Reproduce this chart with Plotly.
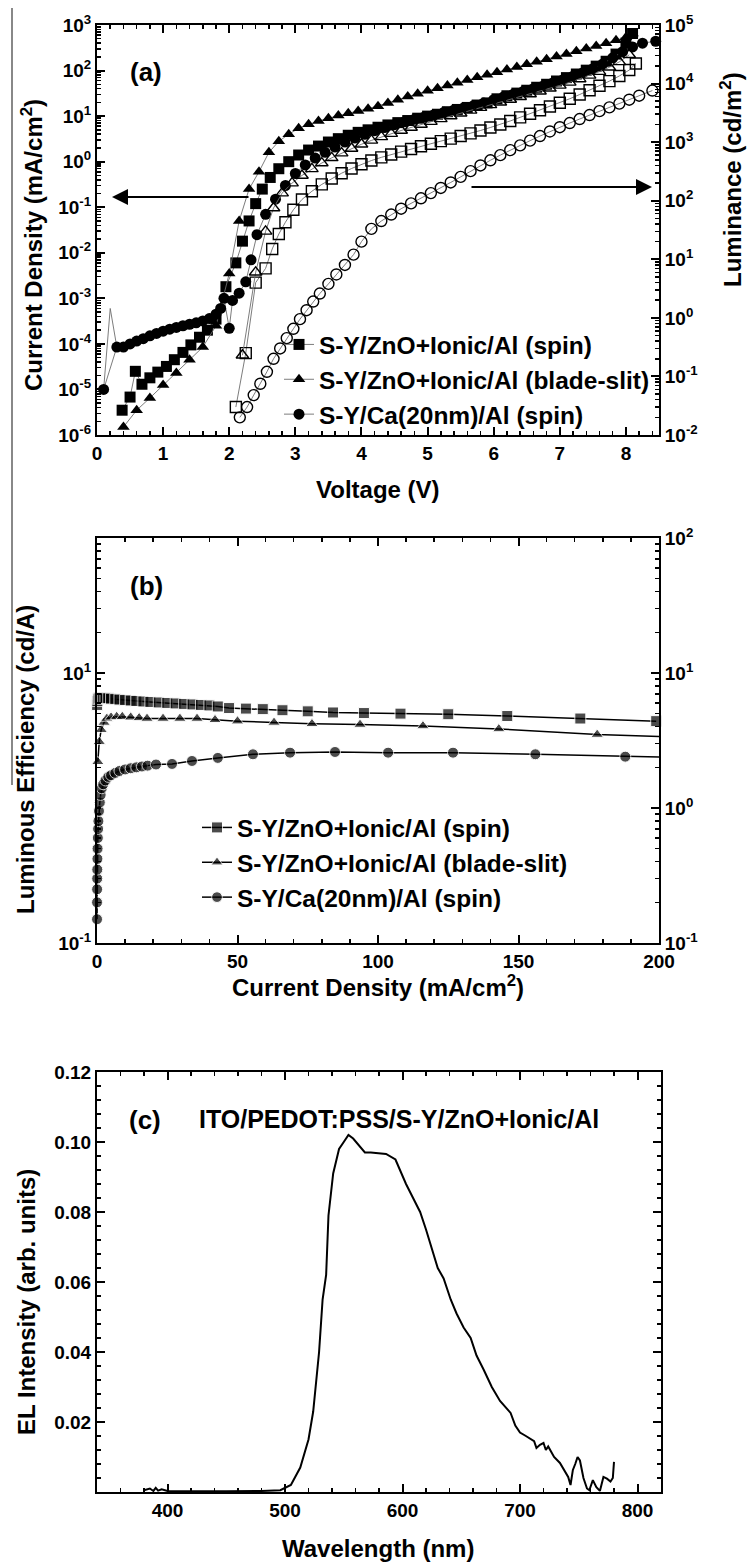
import plotly.graph_objects as go

W, H = 747, 1562
FONT = 'Liberation Sans'

# ---------------- Panel (a): current density (left) / luminance (right) vs voltage ----------------
V_spin_J = [0.38, 0.50, 0.58, 0.68, 0.80, 0.92, 1.05, 1.17, 1.30, 1.42, 1.55, 1.67, 1.80, 1.95, 2.10,
            2.20, 2.30, 2.40, 2.50, 2.62, 2.75, 2.9, 3.05, 3.2, 3.35, 3.5, 3.65, 3.8, 3.95, 4.1,
            4.25, 4.4, 4.55, 4.7, 4.85, 5.0, 5.15, 5.3, 5.45, 5.6, 5.75, 5.9, 6.05, 6.2, 6.35,
            6.5, 6.65, 6.8, 6.95, 7.1, 7.25, 7.4, 7.55, 7.7, 7.85, 8.0, 8.1]
J_spin = [3.5e-6, 6.8e-6, 2.5e-5, 1.3e-5, 1.8e-5, 2.4e-5, 3.2e-5, 4.5e-5, 6.5e-5, 9.5e-5, 1.4e-4, 2.0e-4,
          3.5e-4, 1.8e-3, 6e-3, 0.018, 0.05, 0.12, 0.25, 0.45, 0.7, 1.0, 1.4, 1.8, 2.2, 2.7, 3.2, 3.8,
          4.4, 5.0, 5.7, 6.4, 7.2, 8.0, 9.0, 10, 11, 12.5, 14, 15.5, 17.5, 19.5, 24, 28, 32, 37, 43,
          50, 59, 70, 84, 102, 125, 160, 230, 400, 650]

V_blade_J = [0.4, 0.6, 0.8, 1.0, 1.2, 1.4, 1.6, 1.8, 2.0, 2.15, 2.3, 2.45, 2.6, 2.75, 2.9, 3.05, 3.2,
             3.35, 3.5, 3.65, 3.8, 3.95, 4.1, 4.25, 4.4, 4.55, 4.7, 4.85, 5.0, 5.15, 5.3, 5.45, 5.6,
             5.75, 5.9, 6.05, 6.2, 6.35, 6.5, 6.65, 6.8, 6.95, 7.1, 7.25, 7.4, 7.55, 7.7, 7.85, 8.0, 8.1]
J_blade = [1.5e-6, 3.5e-6, 6.5e-6, 1.25e-5, 2.3e-5, 4.5e-5, 8.5e-5, 2.5e-4, 3.5e-3, 0.05, 0.25, 0.6,
           1.6, 2.8, 4.0, 5.4, 6.6, 7.8, 9.0, 10.3, 11.6, 13, 14.5, 16.5, 19.5, 23, 27, 31, 36, 41, 47,
           54, 62, 71, 81, 92, 105, 120, 137, 156, 178, 203, 232, 265, 303, 347, 400, 460, 540, 650]

V_ca_J = [0.1, 0.3, 0.4, 0.5, 0.6, 0.7, 0.8, 0.9, 1.0, 1.1, 1.2, 1.3, 1.4, 1.5, 1.6, 1.7, 1.8, 1.87, 1.92,
          2.0, 2.05, 2.15, 2.25, 2.33, 2.42, 2.55, 2.7, 2.85, 3.0, 3.15, 3.3, 3.45, 3.6, 3.75, 3.9, 4.05,
          4.2, 4.35, 4.5, 4.65, 4.8, 4.95, 5.1, 5.25, 5.4, 5.55, 5.7, 5.85, 6.0, 6.15, 6.3, 6.45, 6.6,
          6.75, 6.9, 7.05, 7.2, 7.35, 7.5, 7.65, 7.8, 7.95, 8.1, 8.25, 8.45]
J_ca = [1e-5, 8.5e-5, 8.5e-5, 1.0e-4, 1.15e-4, 1.3e-4, 1.5e-4, 1.7e-4, 1.9e-4, 2.1e-4, 2.3e-4, 2.5e-4,
        2.7e-4, 2.9e-4, 3.2e-4, 3.6e-4, 4.5e-4, 6e-4, 1e-3, 2.2e-4, 9e-4, 1.3e-3, 2.3e-3, 7e-3, 0.025,
        0.07, 0.15, 0.3, 0.55, 0.85, 1.2, 1.6, 2.1, 2.7, 3.3, 4.0, 4.8, 5.6, 6.5, 7.5, 8.5, 9.6, 10.8,
        12.2, 13.7, 15.3, 17.2, 19.3, 23, 26.5, 30.5, 35, 40, 46, 54, 63, 75, 90, 110, 140, 190, 260,
        330, 400, 440]

# thin grey spike at very low voltage
V_spike = [0.1, 0.2, 0.3]
J_spike = [1e-5, 6e-4, 8.5e-5]

V_spin_L = [2.1, 2.25, 2.4, 2.55, 2.65, 2.75, 2.85, 2.97, 3.1, 3.25, 3.4, 3.55, 3.7, 3.85, 4.0, 4.15,
            4.3, 4.45, 4.6, 4.75, 4.9, 5.05, 5.2, 5.35, 5.5, 5.65, 5.8, 5.95, 6.1, 6.25, 6.4, 6.55,
            6.7, 6.85, 7.0, 7.15, 7.3, 7.45, 7.6, 7.75, 7.9, 8.05, 8.15]
L_spin = [0.03, 0.25, 4, 7, 15, 27, 43, 70, 105, 145, 190, 240, 295, 355, 420, 485, 550, 615, 690, 765,
          850, 940, 1040, 1150, 1270, 1410, 1580, 1780, 2000, 2300, 2650, 3050, 3500, 4050, 4700, 5500,
          6500, 7700, 9200, 11000, 13500, 17000, 22000]

V_blade_L = [2.2, 2.4, 2.55, 2.67, 2.8, 2.95, 3.1, 3.25, 3.4, 3.55, 3.7, 3.85, 4.0, 4.15, 4.3, 4.45,
             4.6, 4.75, 4.9, 5.05, 5.2, 5.35, 5.5, 5.65, 5.8, 5.95, 6.1, 6.25, 6.4, 6.55, 6.7, 6.85,
             7.0, 7.15, 7.3, 7.45, 7.6, 7.75, 7.9, 8.05]
L_blade = [0.23, 6, 30, 75, 135, 200, 270, 350, 440, 540, 650, 780, 920, 1070, 1230, 1400, 1580, 1780,
           2000, 2240, 2500, 2800, 3120, 3480, 3880, 4320, 4800, 5350, 5950, 6650, 7400, 8300, 9300,
           10500, 12000, 13800, 16000, 19000, 23500, 31000]

V_ca_L = [2.16, 2.27, 2.37, 2.47, 2.57, 2.67, 2.77, 2.87, 2.97, 3.07, 3.17, 3.27, 3.37, 3.5, 3.62, 3.75,
          3.88, 4.0, 4.15, 4.3, 4.45, 4.6, 4.75, 4.9, 5.05, 5.2, 5.35, 5.5, 5.65, 5.8, 5.95, 6.1, 6.25,
          6.4, 6.55, 6.7, 6.85, 7.0, 7.15, 7.3, 7.45, 7.6, 7.75, 7.9, 8.05, 8.2, 8.4]
L_ca = [0.02, 0.03, 0.048, 0.075, 0.12, 0.2, 0.3, 0.45, 0.65, 0.95, 1.35, 1.9, 2.6, 3.8, 5.5, 8, 12, 20,
        33, 45, 58, 73, 90, 110, 135, 165, 205, 255, 320, 400, 490, 600, 730, 880, 1060, 1270, 1520,
        1800, 2120, 2480, 2900, 3380, 3920, 4550, 5300, 6200, 7600]

# ---------------- Panel (b): luminous efficiency vs current density ----------------
Jb_spin = [0.05, 0.15, 0.3, 0.6, 1.0, 1.5, 2.2, 3, 4, 5, 6.5, 8, 10, 12, 14, 16.5, 19, 22, 25, 28, 31,
           34, 37, 40, 43, 47, 53, 59, 66, 75, 84, 95, 108, 125, 146, 172, 199]
LE_spin = [5.8, 6.2, 6.4, 6.5, 6.55, 6.55, 6.55, 6.5, 6.5, 6.45, 6.4, 6.35, 6.3, 6.25, 6.2, 6.15, 6.1,
           6.05, 6.0, 5.95, 5.9, 5.85, 5.8, 5.75, 5.65, 5.5, 5.45, 5.4, 5.3, 5.2, 5.1, 5.05, 5.0, 4.95,
           4.8, 4.6, 4.4]

Jb_blade = [0.3, 0.8, 1.5, 2.5, 3.5, 5, 7, 9, 12, 15, 17.8, 23.5, 29.5, 35.6, 42, 50, 63, 76.5, 93.6,
            116, 143, 178, 215]
LE_blade = [2.2, 3.1, 3.8, 4.3, 4.6, 4.7, 4.75, 4.75, 4.7, 4.65, 4.6, 4.6, 4.6, 4.6, 4.5, 4.4, 4.3,
            4.2, 4.15, 4.05, 3.85, 3.5, 3.3]

Jb_ca = [0.01, 0.02, 0.04, 0.07, 0.1, 0.15, 0.2, 0.3, 0.4, 0.5, 0.7, 1.0, 1.3, 1.7, 2.2, 3, 4, 5, 6.5,
         8, 10, 12, 14, 16, 18, 21, 26.7, 33.8, 43, 55.5, 68.7, 84.7, 103.6, 126.7, 156, 188, 215]
LE_ca = [0.15, 0.2, 0.25, 0.3, 0.35, 0.42, 0.5, 0.6, 0.7, 0.8, 0.95, 1.1, 1.25, 1.4, 1.5, 1.6, 1.7,
         1.75, 1.82, 1.88, 1.93, 1.97, 2.0, 2.03, 2.06, 2.1, 2.12, 2.23, 2.35, 2.5, 2.57, 2.6, 2.57,
         2.57, 2.5, 2.4, 2.35]

# ---------------- Panel (c): EL spectrum ----------------
wl = [380, 385, 388, 390, 392, 395, 400, 420, 450, 480, 496, 505, 513, 520, 524, 529, 532, 535, 537,
      541, 546, 550, 554, 558, 563, 568, 573, 580, 586, 594, 603, 609, 615, 620, 626, 630, 635, 641,
      646, 652, 658, 663, 669, 676, 683, 688, 692, 696, 700, 705, 709, 712, 714, 717, 720, 722, 724,
      729, 734, 738, 741, 743, 745, 747, 749, 751, 752, 754, 757, 759, 762, 765, 768, 771, 774, 777,
      779, 780]
el = [0.0005, 0.001, 0.0003, 0.0012, 0.0004, 0.0008, 0.0003, 0.0002, 0.0002, 0.0003, 0.0005, 0.002,
      0.007, 0.015, 0.023, 0.04, 0.055, 0.062, 0.079, 0.091, 0.098, 0.100, 0.102, 0.101, 0.099, 0.097,
      0.097, 0.0968, 0.0966, 0.095, 0.088, 0.084, 0.080, 0.075, 0.0685, 0.064, 0.061, 0.055, 0.051,
      0.047, 0.044, 0.039, 0.035, 0.030, 0.026, 0.024, 0.0226, 0.019, 0.017, 0.016, 0.015, 0.0145,
      0.0126, 0.0135, 0.014, 0.012, 0.013, 0.010, 0.0083, 0.006, 0.0043, 0.002, 0.0063, 0.008, 0.010,
      0.009, 0.007, 0.004, 0.001, 0.0005, 0.0034, 0.0014, 0.0003, 0.0043, 0.0038, 0.003, 0.004, 0.0086]

names = ['S-Y/ZnO+Ionic/Al (spin)', 'S-Y/ZnO+Ionic/Al (blade-slit)', 'S-Y/Ca(20nm)/Al (spin)']

log_a = list(range(-6, 4))
log_a2 = list(range(-2, 6))
log_b = list(range(-1, 3))


def fx(p):
    return p / W


def fy(p):
    return 1 - p / H


def tf(size):
    return dict(family=FONT, size=size, color='black', weight='bold')


def sup(e):
    return '10<sup>%d</sup>' % e


def minors(lo, hi):
    return [m * 10.0 ** e for e in range(lo, hi) for m in range(2, 10)]


GREY = 'rgba(110,110,110,0.9)'
fig = go.Figure()

# open symbols -> luminance (right axis)
for vx, ly, sym in [(V_spin_L, L_spin, 'square-open'), (V_blade_L, L_blade, 'triangle-up-open'),
                    (V_ca_L, L_ca, 'circle-open')]:
    fig.add_trace(go.Scatter(x=vx, y=ly, xaxis='x', yaxis='y2', mode='lines+markers',
                             line=dict(color=GREY, width=1),
                             marker=dict(symbol=sym, size=11, color='black', line=dict(width=1.4)),
                             showlegend=False, cliponaxis=False))

fig.add_trace(go.Scatter(x=V_spike, y=J_spike, xaxis='x', yaxis='y', mode='lines',
                         line=dict(color=GREY, width=1), showlegend=False))

for vx, jy, sym, nm in [(V_spin_J, J_spin, 'square', names[0]), (V_blade_J, J_blade, 'triangle-up', names[1]),
                        (V_ca_J, J_ca, 'circle', names[2])]:
    fig.add_trace(go.Scatter(x=vx, y=jy, xaxis='x', yaxis='y', mode='lines+markers', name=nm,
                             line=dict(color=GREY, width=1),
                             marker=dict(symbol=sym, size=11, color='black'),
                             legend='legend', cliponaxis=False))

# panel (b)
for jx, ly, sym, nm in [(Jb_spin, LE_spin, 'square', names[0]), (Jb_blade, LE_blade, 'triangle-up', names[1]),
                        (Jb_ca, LE_ca, 'circle', names[2])]:
    sizes = [11] * len(jx)
    if jx[-1] > 200:
        sizes[-1] = 0
    fig.add_trace(go.Scatter(x=jx, y=ly, xaxis='x2', yaxis='y3', mode='lines+markers', name=nm,
                             line=dict(color='black', width=1.5),
                             marker=dict(symbol=sym, size=sizes, color='black'),
                             legend='legend2', cliponaxis=False))
fig.add_trace(go.Scatter(x=[None], y=[None], xaxis='x2', yaxis='y4', showlegend=False, hoverinfo='skip'))

# panel (c)
fig.add_trace(go.Scatter(x=wl, y=el, xaxis='x3', yaxis='y5', mode='lines',
                         line=dict(color='black', width=2), showlegend=False))

AX = dict(showline=True, linecolor='black', linewidth=2, ticks='inside', tickcolor='black',
          tickwidth=2, ticklen=8, showgrid=False, zeroline=False, tickfont=tf(19), automargin=False)
MIN = dict(ticks='inside', ticklen=4, tickwidth=1.5, tickcolor='black', showgrid=False)

xa = [fx(97), fx(659)]
fig.update_layout(
    width=W, height=H, autosize=False, margin=dict(l=0, r=0, t=0, b=0, pad=0, autoexpand=False),
    paper_bgcolor='white', plot_bgcolor='white',
    xaxis=dict(AX, domain=xa, anchor='y', range=[0, 8.5], dtick=1, tick0=0, mirror='ticks',
               minor=dict(MIN, dtick=0.2, tick0=0)),
    yaxis=dict(AX, domain=[fy(435), fy(25)], anchor='x', type='log', range=[-6, 3],
               tickvals=[10.0 ** e for e in log_a], ticktext=[sup(e) for e in log_a],
               minor=dict(MIN, tickvals=minors(-6, 3))),
    yaxis2=dict(AX, overlaying='y', side='right', anchor='x', type='log', range=[-2, 5],
                tickvals=[10.0 ** e for e in log_a2], ticktext=[sup(e) for e in log_a2],
                minor=dict(MIN, tickvals=minors(-2, 5))),
    xaxis2=dict(AX, domain=xa, anchor='y3', range=[0, 200], dtick=50, tick0=0, mirror='ticks',
                minor=dict(MIN, dtick=10, tick0=0)),
    yaxis3=dict(AX, domain=[fy(943), fy(538)], anchor='x2', type='log', range=[-1, 2],
                tickvals=[0.1, 10], ticktext=[sup(-1), sup(1)],
                minor=dict(MIN, tickvals=minors(-1, 2) + [1.0])),
    yaxis4=dict(AX, overlaying='y3', side='right', anchor='x2', type='log', range=[-1, 2],
                tickvals=[10.0 ** e for e in log_b], ticktext=[sup(e) for e in log_b],
                minor=dict(MIN, tickvals=minors(-1, 2))),
    xaxis3=dict(AX, domain=[fx(97), fx(661)], anchor='y5', range=[340, 820], dtick=100, tick0=0,
                mirror='ticks', minor=dict(MIN, dtick=20, tick0=0)),
    yaxis5=dict(AX, domain=[fy(1492), fy(1072)], anchor='x3', range=[0, 0.12],
                tickvals=[0.02, 0.04, 0.06, 0.08, 0.10, 0.12],
                ticktext=['0.02', '0.04', '0.06', '0.08', '0.10', '0.12'], mirror='ticks',
                minor=dict(MIN, tickmode='linear', dtick=0.004, tick0=0)),
    legend=dict(x=fx(279), y=fy(322), xanchor='left', yanchor='top', bgcolor='rgba(0,0,0,0)',
                font=tf(24.5), tracegroupgap=0, itemwidth=30),
    legend2=dict(x=fx(197), y=fy(805), xanchor='left', yanchor='top', bgcolor='rgba(0,0,0,0)',
                 font=tf(24.5), tracegroupgap=0, itemwidth=30),
)

ann = []


def label(text, x, y, size, angle=0):
    ann.append(dict(text=text, x=fx(x), y=fy(y), xref='paper', yref='paper', showarrow=False,
                    font=tf(size), textangle=angle, xanchor='center', yanchor='middle'))


label('(a)', 146, 72, 26)
label('(b)', 146, 586, 26)
label('(c)', 145, 1120, 26)
label('ITO/PEDOT:PSS/S-Y/ZnO+Ionic/Al', 399, 1119, 25)
label('Voltage (V)', 378, 489, 24)
label('Current Density (mA/cm<sup>2</sup>)', 378, 986, 24)
label('Wavelength (nm)', 378, 1548, 24)
label('Current Density (mA/cm<sup>2</sup>)', 32, 245, 24, -90)
label('Luminance (cd/m<sup>2</sup>)', 731, 180, 24, -90)
label('Luminous Efficiency (cd/A)', 25, 760, 24, -90)
label('EL Intensity (arb. units)', 26, 1302, 24, -90)

# arrows pointing to the relevant axes
ann.append(dict(x=fx(112), y=fy(197), xref='paper', yref='paper', ax=138, ay=0, showarrow=True,
                arrowhead=2, arrowsize=1.6, arrowwidth=2, arrowcolor='black', text=''))
ann.append(dict(x=fx(652), y=fy(187), xref='paper', yref='paper', ax=-182, ay=0, showarrow=True,
                arrowhead=2, arrowsize=1.6, arrowwidth=2, arrowcolor='black', text=''))
fig.update_layout(annotations=ann)

# scan-border line at the left
fig.add_shape(type='line', xref='paper', yref='paper', x0=fx(12), x1=fx(12), y0=fy(8), y1=fy(785),
              line=dict(color='#888888', width=2))

fig.write_html('out.html', config={'displayModeBar': False, 'staticPlot': True},
               post_script="document.body.style.margin='0px';document.body.style.overflow='hidden';")
